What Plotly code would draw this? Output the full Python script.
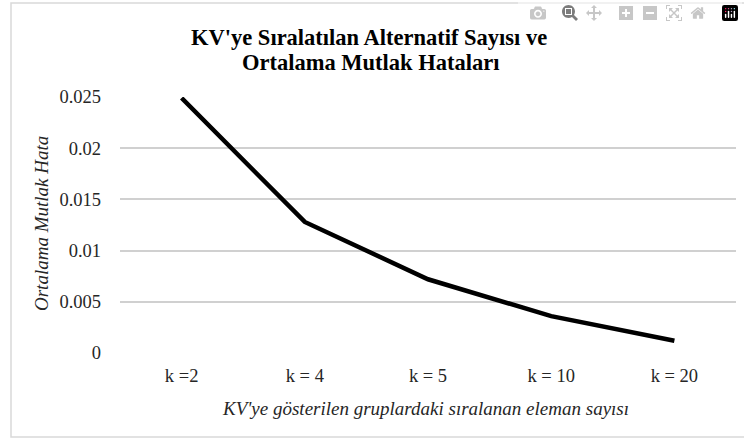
import plotly.graph_objects as go

categories = ["k =2", "k = 4", "k = 5", "k = 10", "k = 20"]
mae_values = [0.0249, 0.0128, 0.0072, 0.0036, 0.0012]
y_ticks = [0, 0.005, 0.01, 0.015, 0.02, 0.025]
y_tick_labels = ["0", "0.005", "0.01", "0.015", "0.02", "0.025"]
title_lines = ["KV'ye Sıralatılan Alternatif Sayısı ve", "Ortalama Mutlak Hataları"]
x_title = "KV'ye gösterilen gruplardaki sıralanan eleman sayısı"
y_title = "Ortalama Mutlak Hata"

FONT = "Times New Roman"
TXT = "#262626"
L, R, T, B = 120, 8, 97, 86
W, H = 744, 439
pw, ph = W - L - R, H - T - B

def px_to_paper_x(px):
    return (px - L) / pw

def px_to_paper_y(py):
    return (H - B - py) / ph

fig = go.Figure()
fig.add_trace(go.Scatter(
    x=categories, y=mae_values, mode="lines",
    line=dict(color="black", width=4.5), cliponaxis=False,
    hoverinfo="skip", showlegend=False))

fig.update_layout(
    width=W, height=H,
    margin=dict(l=L, r=R, t=T, b=B, autoexpand=False),
    paper_bgcolor="white", plot_bgcolor="white",
    font=dict(family=FONT, size=18.5, color=TXT),
    xaxis=dict(
        range=[-0.5, 4.5], showgrid=False, zeroline=False, showline=False,
        ticks="", automargin=False, ticklabelstandoff=9,
        tickfont=dict(family="serif", size=18.5, color=TXT)),
    yaxis=dict(
        range=[0, 0.025], tickvals=y_ticks, ticktext=y_tick_labels,
        showgrid=True, gridcolor="#d0d0d0", gridwidth=1.5, zeroline=False,
        showline=False, ticks="", ticklabelstandoff=18, automargin=False,
        tickfont=dict(family="Liberation Serif", size=18.5, color=TXT)),
    annotations=[
        dict(text="<b>" + title_lines[0] + "</b>",
             xref="paper", yref="paper", x=px_to_paper_x(369), y=px_to_paper_y(37),
             xanchor="center", yanchor="middle", showarrow=False,
             font=dict(family=FONT, size=22.5, color="black")),
        dict(text="<b>" + title_lines[1] + "</b>",
             xref="paper", yref="paper", x=px_to_paper_x(370), y=px_to_paper_y(62),
             xanchor="center", yanchor="middle", showarrow=False,
             font=dict(family=FONT, size=22.5, color="black")),
        dict(text="<i>" + x_title + "</i>",
             xref="paper", yref="paper", x=px_to_paper_x(425), y=px_to_paper_y(408),
             xanchor="center", yanchor="middle", showarrow=False,
             font=dict(family=FONT, size=19, color=TXT)),
        dict(text="<i>" + y_title + "</i>", textangle=-90,
             xref="paper", yref="paper", x=px_to_paper_x(41), y=px_to_paper_y(224),
             xanchor="center", yanchor="middle", showarrow=False,
             font=dict(family=FONT, size=19, color=TXT)),
    ],
)

fig.add_shape(type="rect", xref="paper", yref="paper",
              x0=px_to_paper_x(11), x1=px_to_paper_x(760),
              y0=px_to_paper_y(437), y1=px_to_paper_y(3),
              line=dict(color="#d9d9d9", width=1.5), fillcolor="rgba(0,0,0,0)",
              layer="above")

fig.write_html("out.html", post_script="document.body.style.margin='0';")
